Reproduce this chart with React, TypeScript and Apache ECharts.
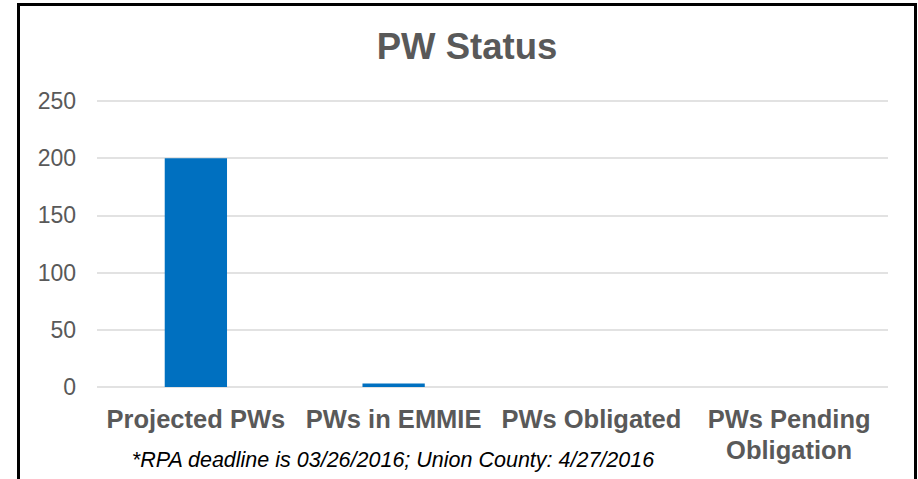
import React, { useEffect, useRef } from "react";
import * as echarts from "echarts";

const categories = ["Projected PWs", "PWs in EMMIE", "PWs Obligated", "PWs Pending\nObligation"];
const values = [200, 3, 0, 0];
const yTicks = [0, 50, 100, 150, 200, 250];
const titleText = "PW Status";
const footnote = "*RPA deadline is 03/26/2016; Union County: 4/27/2016";

export default function App() {
  const ref = useRef<HTMLDivElement>(null);
  useEffect(() => {
    if (!ref.current) return;
    const chart = echarts.init(ref.current, null, { renderer: "svg" });
    const font = "Liberation Sans, Arial, sans-serif";
    chart.setOption({
      animation: false,
      backgroundColor: "#ffffff",
      textStyle: { fontFamily: font },
      graphic: [
        {
          type: "text",
          x: 467,
          y: 46,
          style: {
            text: titleText,
            fontFamily: font,
            fontSize: 36.5,
            fontWeight: "bold",
            fill: "#595959",
            textAlign: "center",
            textVerticalAlign: "middle",
          },
        },
        {
          type: "text",
          x: 393,
          y: 460,
          style: {
            text: footnote,
            fontFamily: font,
            fontSize: 21.5,
            fontStyle: "italic",
            fill: "#000000",
            textAlign: "center",
            textVerticalAlign: "middle",
          },
        },
        {
          type: "rect",
          shape: { x: 18.5, y: 4.5, width: 897, height: 500 },
          style: { fill: "none", stroke: "#000000", lineWidth: 3 },
          silent: true,
        },
      ],
      grid: { left: 97, right: 30, top: 101, bottom: 92, containLabel: false },
      xAxis: {
        type: "category",
        data: categories,
        axisLine: { show: false },
        axisTick: { show: false },
        axisLabel: {
          interval: 0,
          margin: 16,
          fontFamily: font,
          fontSize: 25.5,
          fontWeight: "bold",
          color: "#595959",
          lineHeight: 31,
        },
      },
      yAxis: {
        type: "value",
        min: yTicks[0],
        max: yTicks[yTicks.length - 1],
        interval: 50,
        axisLine: { show: false },
        axisTick: { show: false },
        axisLabel: { fontFamily: font, fontSize: 23, color: "#595959", margin: 21 },
        splitLine: { lineStyle: { color: "#D9D9D9", width: 1.5 } },
      },
      series: [
        {
          type: "bar",
          data: values,
          barWidth: "31.5%",
          itemStyle: { color: "#0070C0" },
        },
      ],
    });
    return () => chart.dispose();
  }, []);
  return (
    <div
      ref={ref}
      style={{ position: "absolute", left: 0, top: 0, width: 918, height: 479 }}
    />
  );
}
